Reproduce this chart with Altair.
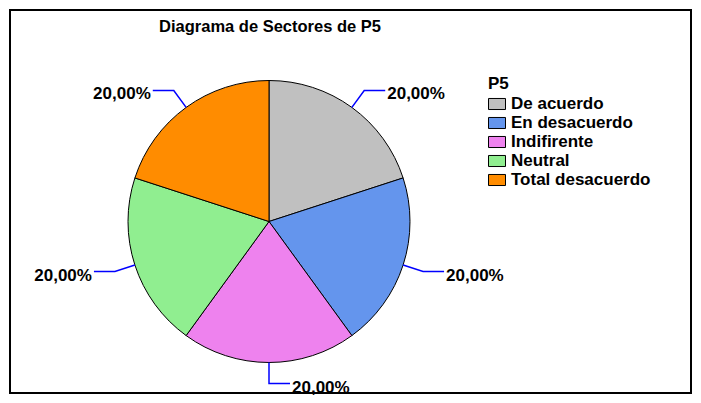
import math
import altair as alt
import pandas as pd

# ---- data ----
categories = ["De acuerdo", "En desacuerdo", "Indifirente", "Neutral", "Total desacuerdo"]
values = [20, 20, 20, 20, 20]
colors = ["#C0C0C0", "#6495ED", "#EE82EE", "#90EE90", "#FF8C00"]
title_text = "Diagrama de Sectores de P5"
legend_title = "P5"

# ---- layout ----
W, H = 681, 383
CX, CY = 259, 211.5
R = 141
ELBOW = 21
HSEG = 21
FONT = "Liberation Sans"

total = sum(values)
rows, line_rows = [], []
cum = 0
for i, (c, v) in enumerate(zip(categories, values)):
    cum += v
    mid = (cum - v / 2) / total * 2 * math.pi
    s, co = math.sin(mid), math.cos(mid)
    d = 1 if s >= -1e-9 else -1
    sx, sy = CX + R * s, CY - R * co
    ex, ey = CX + (R + ELBOW) * s, CY - (R + ELBOW) * co
    hx, hy = ex + d * HSEG, ey
    pct = f"{v / total * 100:.2f}%".replace(".", ",")
    rows.append(dict(cat=c, value=v, idx=i, label=pct,
                     lx=hx + d * 2, ly=hy + 4, side="r" if d > 0 else "l"))
    for seq, (px, py) in enumerate([(sx, sy), (ex, ey), (hx, hy)]):
        line_rows.append(dict(cat=c, seq=seq, px=px, py=py))

df = pd.DataFrame(rows)
df_lines = pd.DataFrame(line_rows)

base = alt.Chart(df)

pie = base.mark_arc(outerRadius=R, stroke="black", strokeWidth=1).encode(
    theta=alt.Theta("value:Q", stack=True),
    color=alt.Color(
        "cat:N",
        scale=alt.Scale(domain=categories, range=colors),
        legend=alt.Legend(
            title=legend_title,
            orient="none",
            legendX=478,
            legendY=66,
            padding=0,
            titleFont=FONT, titleFontSize=17, titleFontWeight="bold",
            titleColor="black", titlePadding=2,
            labelFont=FONT, labelFontSize=17, labelFontWeight="bold",
            labelColor="black", labelOffset=5,
            symbolType="M-1,-0.65H1V0.65H-1Z",
            symbolSize=289,
            symbolStrokeColor="black",
            symbolStrokeWidth=1,
            symbolOpacity=1,
            rowPadding=2,
        ),
    ),
    order=alt.Order("idx:Q"),
    x=alt.value(CX),
    y=alt.value(CY),
)

leaders = alt.Chart(df_lines).mark_line(color="#0000FF", strokeWidth=1.5).encode(
    x=alt.X("px:Q", scale=None, axis=None),
    y=alt.Y("py:Q", scale=None, axis=None),
    detail="cat:N",
    order="seq:Q",
)

labels_r = base.transform_filter(alt.datum.side == "r").mark_text(
    font=FONT, fontSize=17, fontWeight="bold", align="left", baseline="middle", color="black"
).encode(
    x=alt.X("lx:Q", scale=None, axis=None),
    y=alt.Y("ly:Q", scale=None, axis=None),
    text="label:N",
)

labels_l = base.transform_filter(alt.datum.side == "l").mark_text(
    font=FONT, fontSize=17, fontWeight="bold", align="right", baseline="middle", color="black"
).encode(
    x=alt.X("lx:Q", scale=None, axis=None),
    y=alt.Y("ly:Q", scale=None, axis=None),
    text="label:N",
)

title = alt.Chart(pd.DataFrame({"t": [title_text]})).mark_text(
    font=FONT, fontSize=16.5, fontWeight="bold", align="center", baseline="middle", color="black"
).encode(
    x=alt.value(CX + 1),
    y=alt.value(17),
    text="t:N",
)

chart = alt.layer(pie, leaders, labels_r, labels_l, title).properties(
    width=W, height=H, padding=2, autosize=alt.AutoSizeParams(type="none")
).configure_view(stroke="black", strokeWidth=2)

chart.save("out.html", embed_options={"renderer": "svg", "actions": False})
